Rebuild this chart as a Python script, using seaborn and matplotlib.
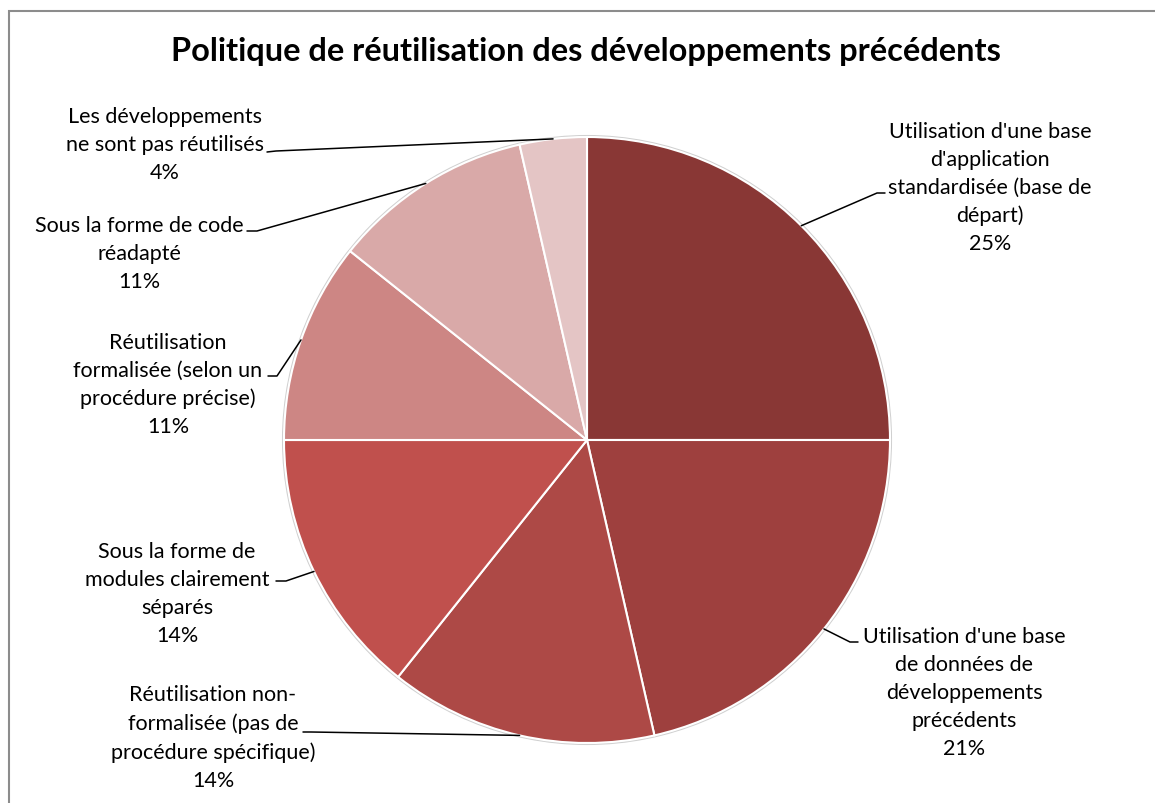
import matplotlib.pyplot as plt
import seaborn as sns
from matplotlib.patches import Rectangle
import numpy as np

# data (number of answers per policy)
categories = [
    "Utilisation d'une base\nd'application\nstandardisée (base de\ndépart)",
    "Utilisation d'une base\nde données de\ndéveloppements\nprécédents",
    "Réutilisation non-\nformalisée (pas de\nprocédure spécifique)",
    "Sous la forme de\nmodules clairement\nséparés",
    "Réutilisation\nformalisée (selon un\nprocédure précise)",
    "Sous la forme de code\nréadapté",
    "Les développements\nne sont pas réutilisés",
]
counts = [7, 6, 4, 4, 3, 3, 1]
colors = ["#893735", "#9E403E", "#AD4946", "#C0504D", "#CD8684", "#D9A9A8", "#E4C5C5"]
title = "Politique de réutilisation des développements précédents"

# label layout in pixels: text centre, elbow of leader, end of leader
text_pos = [(990, 188), (964, 693), (213, 738), (177, 594), (168, 385), (139, 254), (165, 145)]
elbow_pos = [(877, 194), (850, 643), (311, 733), (286, 582), (277, 377), (257, 232), (276, 152)]
end_pos = [(885, 194), (858, 643), (303, 733), (276, 582), (268, 377), (247, 232), (267, 153)]

W, H = 1155, 804
CX, CY, R = 587, 441, 303


def px(x, y):
    return (x - CX) / R, (CY - y) / R


sns.set_theme(style="white")
plt.rcParams['font.family'] = ['Lato', 'DejaVu Sans']

fig = plt.figure(figsize=(W / 100, H / 100), dpi=100)
ax = fig.add_axes([0, 0, 1, 1])

wedges, _ = ax.pie(counts, colors=colors, startangle=90, counterclock=False, radius=1,
                   wedgeprops=dict(edgecolor='white', linewidth=1.5))
ax.add_patch(plt.Circle((0, 0), 1.004, fill=False, edgecolor='#d0d0d0', linewidth=1.2, zorder=0))
ax.set_xlim(-CX / R, (W - CX) / R)
ax.set_ylim(-(H - CY) / R, CY / R)
ax.set_aspect('auto')
ax.axis('off')

total = sum(counts)
for w, cat, c, tp, ep, np_ in zip(wedges, categories, counts, text_pos, elbow_pos, end_pos):
    ang = np.deg2rad((w.theta1 + w.theta2) / 2)
    x0, y0 = np.cos(ang), np.sin(ang)
    ex, ey = px(*ep)
    nx, ny = px(*np_)
    ax.plot([x0, ex, nx], [y0, ey, ny], color='black', linewidth=1.1, zorder=3)
    tx, ty = px(*tp)
    ax.text(tx, ty, f"{cat}\n{round(c / total * 100)}%", ha='center', va='center',
            multialignment='center', fontsize=15.5, linespacing=1.49, color='black')

fig.text(586 / W, 1 - 51 / H, title, ha='center', va='center', fontsize=23.4,
         fontweight='bold', color='black')

# chart border (only top and left are inside the picture)
fig.patches.append(Rectangle((9, -10), W + 20, H - 12 + 10, transform=None, fill=False,
                             edgecolor='#8c8c8c', linewidth=1.5))

fig.savefig('out.png', dpi=100)
